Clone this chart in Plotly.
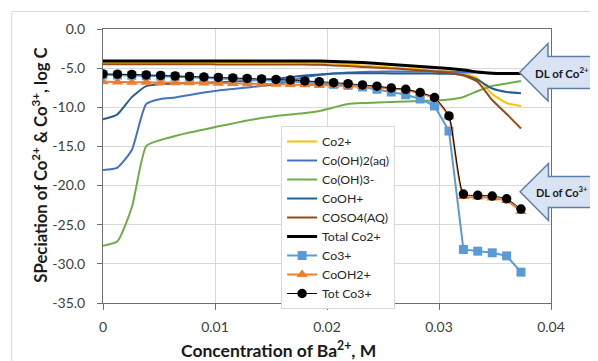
import plotly.graph_objects as go

# ---------------- data ----------------
conc_ba = [0.0, 0.00129, 0.00257, 0.00386, 0.00515, 0.00644, 0.00772, 0.00901, 0.0103, 0.01159,
           0.01287, 0.01416, 0.01545, 0.01673, 0.01802, 0.01931, 0.02059, 0.02188, 0.02317, 0.02446,
           0.02574, 0.02703, 0.02832, 0.0296, 0.03089, 0.03218, 0.03346, 0.03475, 0.03604, 0.03732]

co2 = [-4.20, -4.20, -4.20, -4.21, -4.21, -4.21, -4.22, -4.22, -4.22, -4.23,
       -4.23, -4.24, -4.24, -4.25, -4.27, -4.33, -4.40, -4.53, -4.65, -4.78,
       -4.91, -5.04, -5.17, -5.29, -5.42, -5.61, -6.32, -8.30, -9.45, -9.83]

co_oh2_aq = [-18.02, -17.70, -15.46, -9.58, -8.94, -8.75, -8.43, -8.11, -7.85, -7.66,
             -7.47, -7.28, -7.02, -6.64, -6.13, -5.87, -5.68, -5.55, -5.49, -5.45,
             -5.43, -5.42, -5.42, -5.42, -5.45, -5.52, -5.60, -5.66, -5.68, -5.68]

co_oh3 = [-27.68, -27.10, -22.80, -14.95, -14.18, -13.67, -13.22, -12.84, -12.43, -12.07,
          -11.69, -11.37, -11.11, -10.92, -10.73, -10.47, -10.03, -9.58, -9.45, -9.39,
          -9.32, -9.26, -9.19, -9.13, -9.00, -8.68, -7.92, -7.28, -6.96, -6.64]

cooh = [-11.53, -10.90, -8.70, -7.30, -7.05, -6.95, -6.90, -6.85, -6.80, -6.72,
        -6.62, -6.50, -6.35, -6.15, -5.95, -5.80, -5.70, -5.65, -5.65, -5.66,
        -5.67, -5.68, -5.69, -5.70, -5.72, -5.87, -6.51, -7.60, -8.04, -8.21]

coso4 = [-4.50, -4.50, -4.50, -4.50, -4.50, -4.51, -4.51, -4.51, -4.52, -4.52,
         -4.52, -4.53, -4.53, -4.54, -4.55, -4.57, -4.65, -4.74, -4.85, -4.95,
         -5.04, -5.14, -5.27, -5.42, -5.61, -5.93, -6.76, -9.07, -10.86, -12.71]

total_co2 = [-4.08, -4.08, -4.08, -4.08, -4.08, -4.08, -4.08, -4.08, -4.08, -4.08,
             -4.08, -4.08, -4.08, -4.08, -4.08, -4.10, -4.14, -4.20, -4.27, -4.40,
             -4.53, -4.65, -4.78, -4.91, -5.04, -5.23, -5.49, -5.65, -5.68, -5.68]

co3 = [-5.85, -5.88, -5.92, -5.97, -6.03, -6.10, -6.16, -6.22, -6.29, -6.36,
       -6.45, -6.52, -6.60, -6.70, -6.82, -6.95, -7.07, -7.20, -7.40, -7.70,
       -8.05, -8.40, -8.94, -9.83, -13.03, -28.16, -28.38, -28.59, -28.98, -31.06]

cooh2 = [-6.75, -6.77, -6.79, -6.81, -6.83, -6.86, -6.88, -6.90, -6.93, -6.96,
         -6.99, -7.02, -7.05, -7.09, -7.13, -7.17, -7.22, -7.28, -7.36, -7.45,
         -7.60, -7.80, -8.25, -8.85, -11.20, -21.40, -21.45, -21.60, -21.90, -23.30]

tot_co3 = [-5.74, -5.78, -5.81, -5.87, -5.93, -6.00, -6.06, -6.13, -6.19, -6.25,
           -6.32, -6.38, -6.45, -6.51, -6.64, -6.73, -6.85, -6.98, -7.15, -7.31,
           -7.53, -7.70, -8.11, -8.75, -11.11, -21.09, -21.25, -21.34, -21.69, -23.00]

y_ticks = [0, -5, -10, -15, -20, -25, -30, -35]
y_tick_labels = ["0.0", "-5.0", "-10.0", "-15.0", "-20.0", "-25.0", "-30.0", "-35.0"]
x_ticks = [0, 0.01, 0.02, 0.03, 0.04]
x_tick_labels = ["0", "0.01", "0.02", "0.03", "0.04"]

# ---------------- figure ----------------
OFF = 8  # page body margin: the figure canvas starts 8 px from the window corner
W, H = 598 - OFF, 361 - OFF
L, R, T, B = 102.5, 551.5, 29, 303  # plot area in window pixels
FONT = "Lato, 'Open Sans', sans-serif"

fig = go.Figure()

def smooth(name, y, color, width=2):
    fig.add_trace(go.Scatter(x=conc_ba, y=y, name=name, mode="lines",
                             line=dict(color=color, width=width, shape="spline", smoothing=0.55)))

smooth("Co2+", co2, "#FFC000")
smooth("Co(OH)2(aq)", co_oh2_aq, "#4472C4")
smooth("Co(OH)3-", co_oh3, "#70AD47")
smooth("CoOH+", cooh, "#255E91")
smooth("COSO4(AQ)", coso4, "#9E480E")
smooth("Total Co2+", total_co2, "#000000", 3)

fig.add_trace(go.Scatter(x=conc_ba, y=co3, name="Co3+", mode="lines+markers",
                         line=dict(color="#5B9BD5", width=2),
                         marker=dict(symbol="square", size=9, color="#5B9BD5")))
fig.add_trace(go.Scatter(x=conc_ba, y=cooh2, name="CoOH2+", mode="lines+markers",
                         line=dict(color="#ED7D31", width=2, shape="spline", smoothing=0.5),
                         marker=dict(symbol="triangle-up", size=10, color="#ED7D31")))
fig.add_trace(go.Scatter(x=conc_ba, y=tot_co3, name="Tot Co3+", mode="lines+markers",
                         line=dict(color="#000000", width=1, shape="spline", smoothing=0.5),
                         marker=dict(symbol="circle", size=9.5, color="#000000")))

def px(xp):
    return (xp - L) / (R - L)

def py(yp):
    return 1 - (yp - T) / (B - T)

def arrow_path(tip_x, tip_y, head_x, head_top, head_bot, body_top, body_bot, end_x):
    pts = [(tip_x, tip_y), (head_x, head_top), (head_x, body_top), (end_x, body_top),
           (end_x, body_bot), (head_x, body_bot), (head_x, head_bot)]
    return "M " + " L ".join(f"{px(a):.4f},{py(b):.4f}" for a, b in pts) + " Z"

shapes = [
    dict(type="rect", xref="paper", yref="paper", x0=px(11), x1=px(640), y0=py(400), y1=py(11.5),
         line=dict(color="#D9D9D9", width=1), fillcolor="rgba(0,0,0,0)", layer="below"),
    dict(type="path", xref="paper", yref="paper", layer="above",
         path=arrow_path(520, 72.5, 548.5, 43.5, 101, 56.5, 88.5, 640),
         fillcolor="#DAE3F3", line=dict(color="#5B7FA6", width=1.5)),
    dict(type="path", xref="paper", yref="paper", layer="above",
         path=arrow_path(520.5, 191.7, 549, 163.5, 220.5, 176.5, 207.5, 640),
         fillcolor="#DAE3F3", line=dict(color="#5B7FA6", width=1.5)),
]

annotations = [
    dict(text="<b>DL of Co<sup>2+</sup></b>", xref="paper", yref="paper", x=px(533), y=py(72.5),
         xanchor="left", yanchor="middle", showarrow=False,
         font=dict(family=FONT, size=11.5, color="#1A1A1A")),
    dict(text="<b>DL of Co<sup>3+</sup></b>", xref="paper", yref="paper", x=px(534), y=py(191.7),
         xanchor="left", yanchor="middle", showarrow=False,
         font=dict(family=FONT, size=11, color="#1A1A1A")),
    dict(text="<b>Concentration of Ba<sup>2+</sup>, M</b>", xref="paper", yref="paper",
         x=px(278), y=py(349), xanchor="center", yanchor="middle", showarrow=False,
         font=dict(family=FONT, size=17.5, color="#1A1A1A")),
    dict(text="<b>SPeciation of Co<sup>2+</sup> & Co<sup>3+</sup>, log C</b>", xref="paper", yref="paper",
         x=px(38), y=py(165), xanchor="center", yanchor="middle", showarrow=False, textangle=-90,
         font=dict(family=FONT, size=16.7, color="#1A1A1A")),
]

fig.update_layout(
    width=W, height=H,
    margin=dict(l=L - OFF, r=598 - R, t=T - OFF, b=361 - B, pad=0),
    paper_bgcolor="white", plot_bgcolor="white",
    font=dict(family=FONT, size=13, color="#404040"),
    showlegend=True,
    legend=dict(x=px(281), y=py(126), xanchor="left", yanchor="top",
                bgcolor="white", bordercolor="#D9D9D9", borderwidth=1,
                font=dict(family=FONT, size=12.3, color="#262626"),
                itemwidth=30, tracegroupgap=0),
    shapes=shapes, annotations=annotations,
    xaxis=dict(range=[0, 0.04], tickvals=x_ticks, ticktext=x_tick_labels,
               showgrid=True, gridcolor="#D9D9D9", gridwidth=1,
               showline=True, linecolor="#6E6E6E", linewidth=1, mirror=True,
               ticks="outside", ticklen=6, tickcolor="#6E6E6E", ticklabelstandoff=5,
               zeroline=False, tickfont=dict(family=FONT, size=14, color="#404040")),
    yaxis=dict(range=[-35, 0], tickvals=y_ticks, ticktext=y_tick_labels,
               showgrid=True, gridcolor="#D9D9D9", gridwidth=1,
               showline=True, linecolor="#6E6E6E", linewidth=1, mirror=True,
               ticks="outside", ticklen=5, tickcolor="#6E6E6E", ticklabelstandoff=9,
               zeroline=False, tickfont=dict(family=FONT, size=14, color="#404040")),
)

fig.write_html("out.html")
